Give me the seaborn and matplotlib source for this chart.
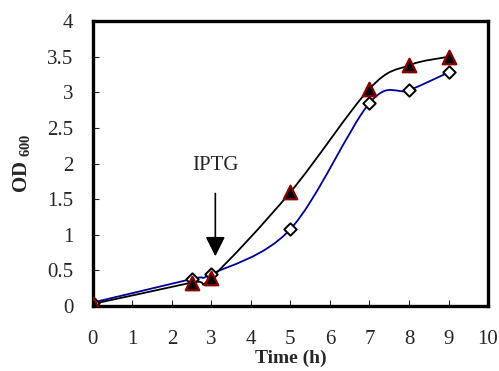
import numpy as np
import matplotlib
matplotlib.use('Agg')
import matplotlib.pyplot as plt
from matplotlib.path import Path
from matplotlib.patches import PathPatch
import seaborn as sns

# growth curves, OD600 vs time
time_h = [0, 2.5, 3, 5, 7, 8, 9]
od_induced = [0.03, 0.33, 0.40, 1.60, 3.05, 3.38, 3.50]
od_control = [0.05, 0.38, 0.45, 1.08, 2.85, 3.03, 3.28]
x_ticks = list(range(0, 11))
y_ticks = [0, 0.5, 1, 1.5, 2, 2.5, 3, 3.5, 4]

sns.set_style('ticks')
plt.rcParams['font.family'] = ['Liberation Serif', 'DejaVu Serif']
plt.rcParams['mathtext.fontset'] = 'custom'
plt.rcParams['mathtext.rm'] = 'Liberation Serif'
plt.rcParams['mathtext.bf'] = 'Liberation Serif:bold'


def smooth_path(xs, ys):
    """Excel-like smoothed line as a cubic Bezier path."""
    pts = np.column_stack([xs, ys]).astype(float)
    n = len(pts)
    verts = [pts[0]]
    codes = [Path.MOVETO]
    for i in range(n - 1):
        p0 = pts[max(i - 1, 0)]
        p1 = pts[i]
        p2 = pts[i + 1]
        p3 = pts[min(i + 2, n - 1)]
        c1 = p1 + (p2 - p0) / 6.0
        c2 = p2 - (p3 - p1) / 6.0
        verts += [c1, c2, p2]
        codes += [Path.CURVE4] * 3
    return Path(verts, codes)


fig = plt.figure(figsize=(4.99, 3.71), dpi=100)
ax = fig.add_axes([0.186, 0.175, 0.792, 0.768])

ax.add_patch(PathPatch(smooth_path(time_h, od_control), fill=False,
                       edgecolor='#000099', lw=1.3, zorder=2))
ax.add_patch(PathPatch(smooth_path(time_h, od_induced), fill=False,
                       edgecolor='black', lw=1.3, zorder=2))

sns.scatterplot(x=time_h, y=od_control, marker='D', s=40, color='white',
                edgecolor='black', linewidth=1.4, ax=ax, zorder=3)
sns.scatterplot(x=time_h, y=od_induced, marker='^', s=95, color='black',
                edgecolor='#8B0000', linewidth=1.6, ax=ax, zorder=4)

ax.annotate('', xy=(3.1, 0.66), xytext=(3.1, 1.62),
            arrowprops=dict(arrowstyle='-|>,head_width=0.6,head_length=1.2',
                            color='black', lw=1.2))
ax.text(3.1, 1.98, 'IPTG', ha='center', va='center', fontsize=15)

ax.set_xlim(0, 10)
ax.set_ylim(0, 4)
ax.set_xticks(x_ticks)
ax.set_yticks(y_ticks)
ax.set_yticklabels([f'{v:g}' for v in y_ticks])
ax.tick_params(direction='in', length=4, width=0.8, labelsize=15, pad=14)
ax.tick_params(axis='x', pad=17)
for sp in ax.spines.values():
    sp.set_linewidth(2.4)
    sp.set_color('black')

ax.set_xlabel('Time (h)', fontsize=14, fontweight='bold', labelpad=1)
ax.set_ylabel(r'OD$_{\mathbf{\ 600}}$', fontsize=15, fontweight='bold', labelpad=10)

fig.savefig('out.png', dpi=100)
